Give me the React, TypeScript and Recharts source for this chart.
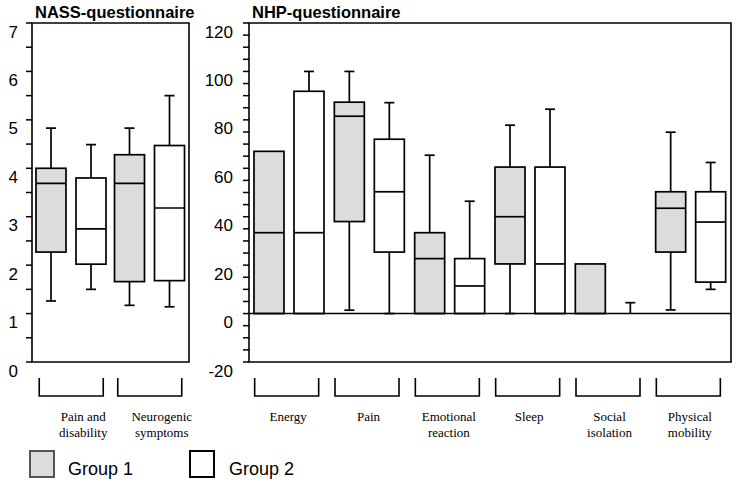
import React from 'react';
import { ComposedChart, Bar, XAxis, YAxis, ReferenceArea, ReferenceLine } from 'recharts';

// ---------- NASS questionnaire ----------
const nassCategories = ['Pain and\ndisability', 'Neurogenic\nsymptoms'];
const nassG1Min = [1.26, 1.17];
const nassG1Q1 = [2.27, 1.66];
const nassG1Median = [3.69, 3.69];
const nassG1Q3 = [4.0, 4.28];
const nassG1Max = [4.83, 4.83];
const nassG2Min = [1.5, 1.14];
const nassG2Q1 = [2.02, 1.68];
const nassG2Median = [2.75, 3.18];
const nassG2Q3 = [3.8, 4.47];
const nassG2Max = [4.49, 5.5];
const nassTicks = [0, 0.5, 1, 1.5, 2, 2.5, 3, 3.5, 4, 4.5, 5, 5.5, 6, 6.5, 7];
const nassTickLabels = [0, 1, 2, 3, 4, 5, 6, 7];

// ---------- NHP questionnaire ----------
const nhpCategories = ['Energy', 'Pain', 'Emotional\nreaction', 'Sleep', 'Social\nisolation', 'Physical\nmobility'];
const nhpG1Min = [0, 1.4, 0, 0, 0, 1.5];
const nhpG1Q1 = [0, 38, 0, 20.5, 0, 25.4];
const nhpG1Median = [33.4, 81.5, 22.7, 40, 0, 43.5];
const nhpG1Q3 = [67, 87.3, 33.4, 60.5, 20.5, 50.3];
const nhpG1Max = [67, 100, 65.4, 77.8, 20.5, 74.9];
const nhpG2Min = [0, 0, 0, 0, 0, 10];
const nhpG2Q1 = [0, 25.4, 0, 0, 0, 13];
const nhpG2Median = [33.4, 50.3, 11.4, 20.5, 0, 37.8];
const nhpG2Q3 = [91.8, 72, 22.7, 60.5, 0, 50.3];
const nhpG2Max = [100, 87.1, 46.4, 84.4, 4.5, 62.4];
const nhpTicks = [-20, -15, -10, -5, 0, 5, 10, 15, 20, 25, 30, 35, 40, 45, 50, 55, 60, 65, 70, 75, 80, 85, 90, 95, 100, 105, 110, 115, 120];
const nhpTickLabels = [-20, 0, 20, 40, 60, 80, 100, 120];

const legendLabels = ['Group 1', 'Group 2'];

const GREY = '#dcdcdc';
const SANS = '"Liberation Sans", Arial, Helvetica, sans-serif';
const SERIF = '"Liberation Serif", "Times New Roman", serif';

type Stats = { min: number[]; q1: number[]; med: number[]; q3: number[]; max: number[] };

function buildRows(cats: string[], g1: Stats, g2: Stats) {
  return cats.map((name, i) => ({
    name,
    g1: [g1.min[i], g1.max[i]],
    g1q1: g1.q1[i], g1med: g1.med[i], g1q3: g1.q3[i],
    g2: [g2.min[i], g2.max[i]],
    g2q1: g2.q1[i], g2med: g2.med[i], g2q3: g2.q3[i],
  }));
}

const nassRows = buildRows(
  nassCategories,
  { min: nassG1Min, q1: nassG1Q1, med: nassG1Median, q3: nassG1Q3, max: nassG1Max },
  { min: nassG2Min, q1: nassG2Q1, med: nassG2Median, q3: nassG2Q3, max: nassG2Max },
);
const nhpRows = buildRows(
  nhpCategories,
  { min: nhpG1Min, q1: nhpG1Q1, med: nhpG1Median, q3: nhpG1Q3, max: nhpG1Max },
  { min: nhpG2Min, q1: nhpG2Q1, med: nhpG2Median, q3: nhpG2Q3, max: nhpG2Max },
);

const SW = 1.7;

function makeBoxShape(prefix: 'g1' | 'g2', fill: string) {
  return (props: any) => {
    const { x, y, width, height, payload } = props;
    const [lo, hi] = payload[prefix] as number[];
    const q1 = payload[prefix + 'q1'];
    const med = payload[prefix + 'med'];
    const q3 = payload[prefix + 'q3'];
    const top = Math.min(y, y + height);
    const bottom = Math.max(y, y + height);
    const py = (v: number) => (hi === lo ? bottom : bottom - ((v - lo) / (hi - lo)) * (bottom - top));
    const cx = x + width / 2;
    const capHalf = 5;
    return (
      <g>
        {hi > q3 && (
          <g>
            <line x1={cx} x2={cx} y1={py(q3)} y2={py(hi)} stroke="#000" strokeWidth={SW} />
            <line x1={cx - capHalf} x2={cx + capHalf} y1={py(hi)} y2={py(hi)} stroke="#000" strokeWidth={SW} />
          </g>
        )}
        {lo < q1 && (
          <g>
            <line x1={cx} x2={cx} y1={py(q1)} y2={py(lo)} stroke="#000" strokeWidth={SW} />
            <line x1={cx - capHalf} x2={cx + capHalf} y1={py(lo)} y2={py(lo)} stroke="#000" strokeWidth={SW} />
          </g>
        )}
        {q3 > q1 && (
          <rect x={x} y={py(q3)} width={width} height={py(q1) - py(q3)} fill={fill} stroke="#000" strokeWidth={SW} />
        )}
        {q3 > q1 && med > q1 && (
          <line x1={x} x2={x + width} y1={py(med)} y2={py(med)} stroke="#000" strokeWidth={SW} />
        )}
      </g>
    );
  };
}

const g1Shape = makeBoxShape('g1', GREY);
const g2Shape = makeBoxShape('g2', '#ffffff');

function makeYTick(labels: number[]) {
  return (props: any) => {
    const { x, y, payload } = props;
    if (!labels.includes(payload.value)) return <g />;
    return (
      <text x={x} y={y + 9} textAnchor="end" dominantBaseline="central" fontSize={17} fontFamily={SANS} fill="#000">
        {payload.value}
      </text>
    );
  };
}

function makeXTick(bracketDx: number, labelDx: number) {
  return (props: any) => {
    const { x, y, payload } = props;
    const lines = String(payload.value).split('\n');
    const bx = x + bracketDx;
    return (
      <g>
        <path
          d={`M ${bx - 32} ${y + 16} V ${y + 34} H ${bx + 32} V ${y + 16}`}
          fill="none"
          stroke="#000"
          strokeWidth={1.6}
        />
        {lines.map((ln, i) => (
          <text key={i} x={x + labelDx} y={y + 58.5 + i * 16} textAnchor="middle" fontSize={13} fontFamily={SERIF} fill="#000">
            {ln}
          </text>
        ))}
      </g>
    );
  };
}

export default function App() {
  return (
    <div style={{ position: 'absolute', left: 0, top: 0, width: 736, height: 485, background: '#fff', overflow: 'hidden' }}>
      <div style={{ position: 'absolute', left: 0, top: 0 }}>
        <ComposedChart width={195} height={445} data={nassRows} margin={{ top: 23, right: 6, bottom: 0, left: 0 }} barGap={10} barSize={30}>
          <XAxis dataKey="name" height={83} axisLine={false} tickLine={false} tickSize={0} tickMargin={0} interval={0} tick={makeXTick(0, 12)} />
          <YAxis
            width={32}
            domain={[0, 7]}
            ticks={nassTicks}
            interval={0}
            axisLine={false}
            tickSize={6}
            tickMargin={8}
            tickLine={{ stroke: '#000', strokeWidth: 1.5 }}
            tick={makeYTick(nassTickLabels)}
            allowDataOverflow
          />
          <ReferenceArea y1={0} y2={7} fill="none" fillOpacity={0} stroke="#000" strokeWidth={1.6} ifOverflow="visible" />
          <Bar dataKey="g1" shape={g1Shape} isAnimationActive={false} />
          <Bar dataKey="g2" shape={g2Shape} isAnimationActive={false} />
        </ComposedChart>
      </div>
      <div style={{ position: 'absolute', left: 195, top: 0 }}>
        <ComposedChart width={541} height={445} data={nhpRows} margin={{ top: 23, right: 5, bottom: 0, left: 0 }} barGap={10} barSize={30}>
          <XAxis dataKey="name" height={83} axisLine={false} tickLine={false} tickSize={0} tickMargin={0} interval={0} tick={makeXTick(-2.5, -1)} />
          <YAxis
            width={54}
            domain={[-20, 120]}
            ticks={nhpTicks}
            interval={0}
            axisLine={false}
            tickSize={6}
            tickMargin={10}
            tickLine={{ stroke: '#000', strokeWidth: 1.5 }}
            tick={makeYTick(nhpTickLabels)}
            allowDataOverflow
          />
          <ReferenceArea y1={-20} y2={120} fill="none" fillOpacity={0} stroke="#000" strokeWidth={1.6} ifOverflow="visible" />
          <Bar dataKey="g1" shape={g1Shape} isAnimationActive={false} />
          <Bar dataKey="g2" shape={g2Shape} isAnimationActive={false} />
          <ReferenceLine y={0} stroke="#000" strokeWidth={1.6} ifOverflow="visible" />
        </ComposedChart>
      </div>
      <div style={{ position: 'absolute', left: 35, top: 4, fontFamily: SANS, fontWeight: 'bold', fontSize: 16.5, lineHeight: '17px', whiteSpace: 'nowrap', color: '#000' }}>
        NASS-questionnaire
      </div>
      <div style={{ position: 'absolute', left: 252, top: 4, fontFamily: SANS, fontWeight: 'bold', fontSize: 16.5, lineHeight: '17px', whiteSpace: 'nowrap', color: '#000' }}>
        NHP-questionnaire
      </div>
      {legendLabels.map((lab, i) => (
        <React.Fragment key={lab}>
          <div
            style={{
              position: 'absolute',
              left: i === 0 ? 29 : 189,
              top: 450,
              width: 26,
              height: 28,
              boxSizing: 'border-box',
              background: i === 0 ? GREY : '#fff',
              border: i === 0 ? '2px solid #555' : '2px solid #000',
            }}
          />
          <div
            style={{
              position: 'absolute',
              left: i === 0 ? 68 : 229,
              top: 460,
              fontFamily: SANS,
              fontSize: 18,
              lineHeight: '18px',
              whiteSpace: 'nowrap',
              color: '#000',
            }}
          >
            {lab}
          </div>
        </React.Fragment>
      ))}
    </div>
  );
}
